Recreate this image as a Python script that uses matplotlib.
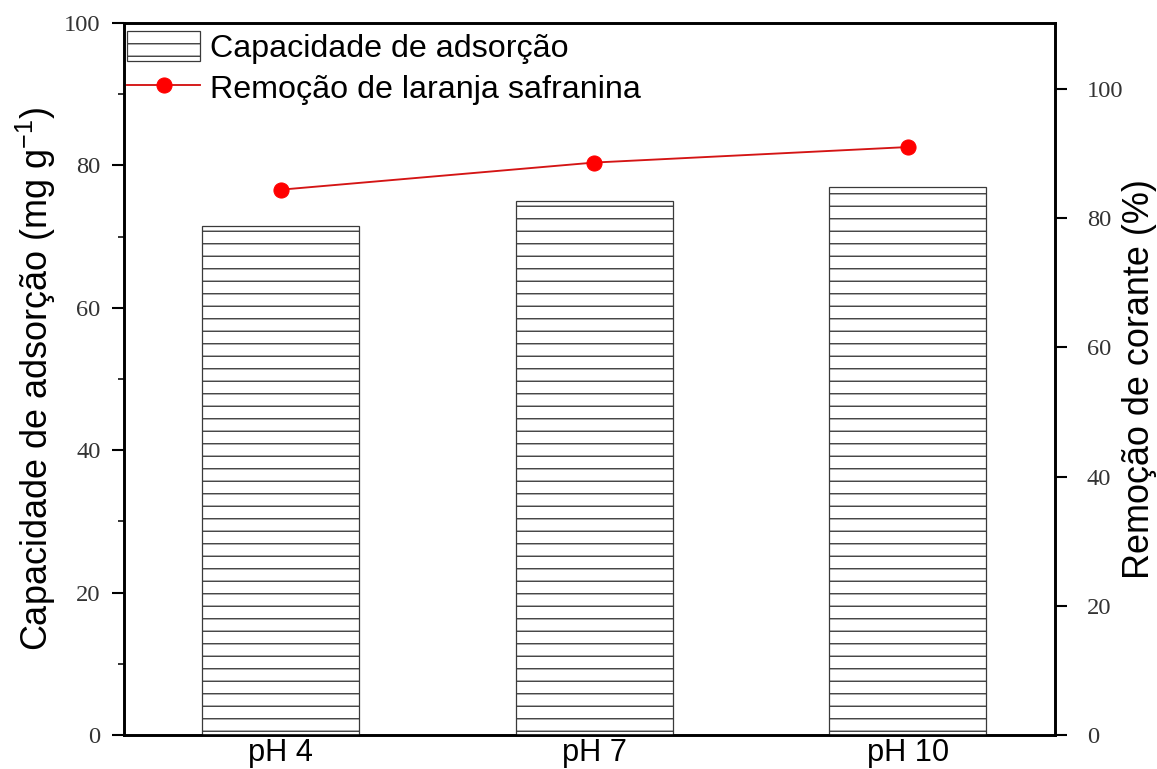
import matplotlib
matplotlib.use("Agg")
import matplotlib.pyplot as plt
from matplotlib.ticker import MultipleLocator

categories = ["pH 4", "pH 7", "pH 10"]
capacity = [71.5, 75.0, 77.0]
removal = [84.4, 88.6, 91.0]

DPI = 75
fig = plt.figure(figsize=(1157 / DPI, 769 / DPI), dpi=DPI)
ax = fig.add_axes([124 / 1157, 1 - 735 / 769, (1055 - 124) / 1157, (735 - 23) / 769])

plt.rcParams['hatch.linewidth'] = 1.3
x = list(range(len(categories)))
bars = ax.bar(x, capacity, width=0.5, facecolor='white', edgecolor='#3a3a3a',
              hatch='-', linewidth=1.2, label='Capacidade de adsorção', zorder=2)

ax.set_xlim(-0.5, 2.47)
ax.set_ylim(0, 100)
ax.set_xticks(x)
ax.set_xticklabels(categories, fontsize=29.5, family='Liberation Sans')
ax.tick_params(axis='x', length=0, pad=3)
ax.yaxis.set_major_locator(MultipleLocator(20))
ax.yaxis.set_minor_locator(MultipleLocator(10))
ax.tick_params(axis='y', which='major', direction='out', length=11.5, width=2, pad=11, labelsize=23.5)
ax.tick_params(axis='y', which='minor', direction='out', length=6, width=1.5)
for lab in ax.get_yticklabels():
    lab.set_family('Liberation Serif')
    lab.set_color('#333333')
for s in ax.spines.values():
    s.set_linewidth(2.5)
ax.set_ylabel('Capacidade de adsorção (mg g$^{\\mathregular{-1}}$)', fontsize=34.5,
              family='Liberation Sans', labelpad=6)

ax2 = ax.twinx()
line, = ax2.plot(x, removal, color='#d41414', linewidth=1.8, marker='o',
                 markersize=14.5, markerfacecolor='#ff0000', markeredgecolor='#ff0000',
                 label='Remoção de laranja safranina', zorder=3)
ax2.set_ylim(0, 110.2)
ax2.set_yticks([0, 20, 40, 60, 80, 100])
ax2.tick_params(axis='y', which='major', direction='out', length=11.5, width=2, pad=19, labelsize=23.5)
for lab in ax2.get_yticklabels():
    lab.set_family('Liberation Serif')
    lab.set_color('#333333')
for s in ax2.spines.values():
    s.set_linewidth(2.5)
ax2.set_ylabel('Remoção de corante (%)', fontsize=34.5, family='Liberation Sans', labelpad=-1)

leg = ax.legend([bars, line], ['Capacidade de adsorção', 'Remoção de laranja safranina'],
                loc='upper left', bbox_to_anchor=(0.0, 0.993), frameon=False,
                prop={'family': 'Liberation Sans', 'size': 31},
                handlelength=2.25, handleheight=1.05, handletextpad=0.3, labelspacing=0.25,
                borderaxespad=0.05, borderpad=0.05)
leg.set_zorder(5)
ax.set_zorder(ax2.get_zorder() + 1)
ax.patch.set_visible(False)

fig.savefig('out.png', dpi=DPI)
